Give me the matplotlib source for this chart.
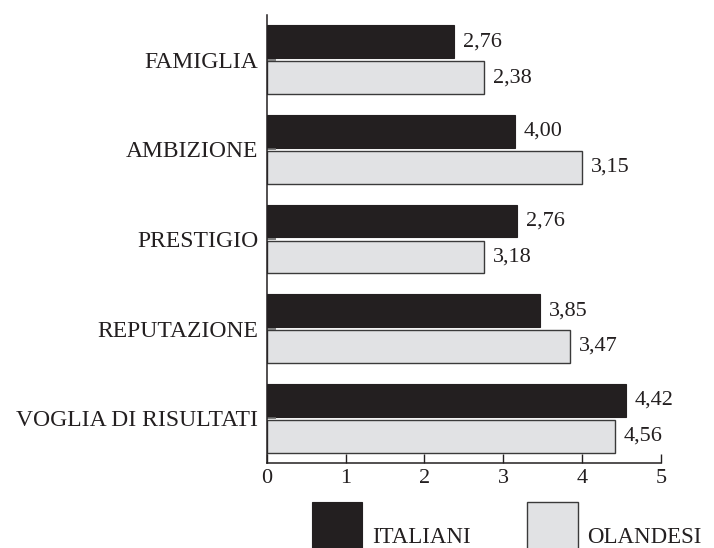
import matplotlib
matplotlib.use("Agg")
import matplotlib.pyplot as plt
from matplotlib.patches import Rectangle
import numpy as np

plt.rcParams["font.family"] = ["Liberation Serif", "DejaVu Serif"]

categories = ["FAMIGLIA", "AMBIZIONE", "PRESTIGIO", "REPUTAZIONE", "VOGLIA DI RISULTATI"]
italiani = [2.38, 3.15, 3.18, 3.47, 4.56]
olandesi = [2.76, 4.00, 2.76, 3.85, 4.42]
x_ticks = [0, 1, 2, 3, 4, 5]
series_names = ["ITALIANI", "OLANDESI"]

DARK = "#231f20"
LIGHT = "#e1e2e4"
EDGE = "#3a3a3a"
FS = 16

fig = plt.figure(figsize=(7.14, 5.48), dpi=100)
ax = fig.add_axes([266.7 / 714, 1 - 463 / 548, (661 - 266.7) / 714, (463 - 15) / 548])

y = np.arange(len(categories))
h = 0.366
off = 0.2

ax.barh(y - off, italiani, height=h, color=DARK, edgecolor=DARK, linewidth=0.8)
ax.barh(y + off, olandesi, height=h, color=LIGHT, edgecolor=EDGE, linewidth=1.0)


def fmt(v):
    return f"{v:.2f}".replace(".", ",")


# value labels: each pair of bars carries the two figures side by side
for i in range(len(categories)):
    ax.annotate(fmt(olandesi[i]), (italiani[i], y[i] - off), xytext=(6, 0),
                textcoords="offset points", va="center", ha="left",
                fontsize=FS, color=DARK)
    ax.annotate(fmt(italiani[i]), (olandesi[i], y[i] + off), xytext=(6, 0),
                textcoords="offset points", va="center", ha="left",
                fontsize=FS, color=DARK)

ax.set_xlim(0, 5)
ax.set_ylim(len(categories) - 0.5, -0.5)
ax.set_xticks(x_ticks)
ax.set_xticklabels([str(t) for t in x_ticks], fontsize=FS, color=DARK)
ax.set_yticks(y)
ax.set_yticklabels(categories, fontsize=17, color=DARK)

ax.tick_params(axis="x", direction="in", length=6.5, width=1.0, color=DARK, pad=4)
ax.tick_params(axis="y", direction="in", length=6.5, width=1.2, color="#6a6a6a", pad=6)

for s in ("top", "right"):
    ax.spines[s].set_visible(False)
for s in ("left", "bottom"):
    ax.spines[s].set_linewidth(1.1)
    ax.spines[s].set_color(DARK)

# legend drawn as figure-level swatches and labels
W, H = 714, 548
fig.patches.append(Rectangle((312 / W, -0.02), 50 / W, 0.02 + 1 - 502 / H,
                             transform=fig.transFigure, facecolor=DARK,
                             edgecolor=DARK, linewidth=0.8))
fig.patches.append(Rectangle((527 / W, -0.02), 51 / W, 0.02 + 1 - 502 / H,
                             transform=fig.transFigure, facecolor=LIGHT,
                             edgecolor=EDGE, linewidth=1.0))
fig.text(372 / W, 1 - 543 / H, series_names[0], fontsize=16.5, color=DARK,
         ha="left", va="baseline")
fig.text(587 / W, 1 - 543 / H, series_names[1], fontsize=16.5, color=DARK,
         ha="left", va="baseline")

fig.savefig("out.png", dpi=100)
